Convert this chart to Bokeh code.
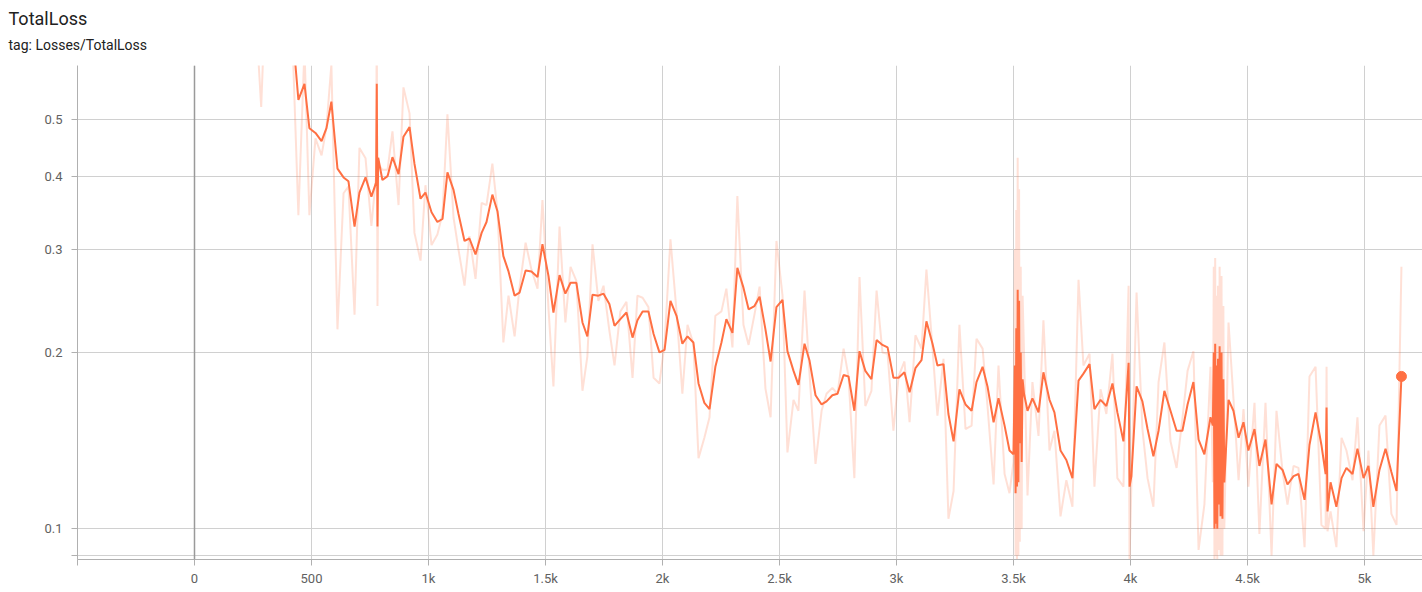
from bokeh.models import FixedTicker, PrintfTickFormatter, Span, Title
from bokeh.plotting import figure
from bokeh.embed import file_html
from bokeh.resources import INLINE

# training steps, raw loss and the smoothed (EMA) loss
steps = [
    25, 50, 75, 100, 120, 145, 170, 195, 220, 245, 265, 285, 305, 325, 350, 370, 395, 420,
    444, 470, 491, 517, 543, 564, 585, 611, 637, 658, 684, 705, 731, 756,
    776, 779, 782, 785,
    803, 825, 846, 872, 893, 919, 940, 966, 987, 1013, 1038, 1060, 1081, 1107, 1128,
    1154, 1175, 1201, 1227, 1248, 1273, 1295, 1320, 1342, 1368, 1389, 1415, 1440, 1466,
    1487, 1513, 1534, 1560, 1585, 1607, 1632, 1658, 1679, 1701, 1726, 1748, 1773, 1795,
    1820, 1846, 1872, 1893, 1915, 1940, 1962, 1987, 2009, 2034, 2060, 2085, 2107, 2132,
    2154, 2179, 2201, 2226, 2252, 2273, 2299, 2320, 2346, 2368, 2393, 2415, 2440, 2462,
    2487, 2513, 2534, 2560, 2581, 2607, 2628, 2654, 2680, 2701, 2726, 2748, 2774, 2795,
    2820, 2842, 2867, 2893, 2915, 2940, 2962, 2987, 3009, 3034, 3056, 3081, 3107, 3128,
    3154, 3175, 3201, 3222, 3244, 3269, 3295, 3321, 3342, 3368, 3389, 3415, 3436, 3462,
    3483, 3500,
    3506, 3509, 3512, 3515, 3518, 3521, 3524, 3527, 3531, 3535, 3539, 3545,
    3560, 3581, 3607, 3628, 3654, 3675, 3701, 3726, 3752, 3778, 3799, 3825, 3846, 3872,
    3897, 3923, 3944, 3970,
    3992, 3996,
    4004, 4026, 4051, 4073, 4098, 4120, 4145, 4171, 4197, 4222, 4244, 4269, 4291, 4316, 4342,
    4352, 4356, 4359, 4362, 4365, 4368, 4371, 4374, 4377, 4381, 4385, 4389, 4393, 4397, 4401,
    4419, 4440, 4462, 4483, 4504, 4530, 4551, 4577, 4603, 4624, 4650, 4671, 4697, 4718,
    4744, 4765, 4791, 4816,
    4834, 4838, 4842,
    4855, 4880, 4902, 4923, 4949, 4970, 4996, 5017, 5038, 5064, 5090, 5115, 5137, 5158,
]

raw_loss = [
    2.6, 2.2, 1.9, 1.6, 1.4, 1.2, 1.1, 1.0, 0.9, 0.8, 0.72, 0.525, 0.85, 0.95, 0.85, 0.9, 0.75, 0.66,
    0.343, 0.66, 0.343, 0.464, 0.434, 0.485, 0.62, 0.219, 0.374, 0.384, 0.232, 0.447, 0.429, 0.329,
    0.40, 0.75, 0.24, 0.42,
    0.41, 0.41, 0.477, 0.357, 0.567, 0.512, 0.32, 0.287, 0.386, 0.305, 0.318, 0.345, 0.51, 0.34, 0.30,
    0.26, 0.316, 0.267, 0.36, 0.357, 0.42, 0.348, 0.208, 0.25, 0.213, 0.258, 0.308, 0.277, 0.257,
    0.364, 0.237, 0.175, 0.328, 0.225, 0.28, 0.265, 0.172, 0.197, 0.306, 0.245, 0.26, 0.218, 0.19,
    0.235, 0.244, 0.181, 0.25, 0.248, 0.239, 0.181, 0.177, 0.207, 0.312, 0.235, 0.17, 0.223, 0.207,
    0.132, 0.143, 0.155, 0.231, 0.235, 0.257, 0.204, 0.37, 0.223, 0.206, 0.232, 0.259, 0.1735, 0.155,
    0.31, 0.25, 0.135, 0.166, 0.159, 0.255, 0.185, 0.129, 0.159, 0.17, 0.174, 0.17, 0.203, 0.182,
    0.122, 0.269, 0.162, 0.172, 0.255, 0.2, 0.199, 0.147, 0.182, 0.193, 0.152, 0.214, 0.203, 0.277,
    0.203, 0.156, 0.195, 0.104, 0.116, 0.223, 0.148, 0.15, 0.211, 0.203, 0.162, 0.119, 0.19, 0.124,
    0.115, 0.13,
    0.30, 0.09, 0.35, 0.085, 0.43, 0.09, 0.38, 0.095, 0.28, 0.10, 0.25, 0.20,
    0.114, 0.178, 0.144, 0.227, 0.136, 0.147, 0.105, 0.121, 0.109, 0.266, 0.19, 0.199, 0.118, 0.173,
    0.157, 0.199, 0.122, 0.118,
    0.26, 0.088,
    0.12, 0.253, 0.148, 0.122, 0.109, 0.178, 0.208, 0.141, 0.127, 0.154, 0.186, 0.201, 0.092, 0.11, 0.189,
    0.12, 0.28, 0.085, 0.29, 0.09, 0.25, 0.088, 0.26, 0.092, 0.28, 0.09, 0.27, 0.09, 0.24, 0.10,
    0.225, 0.167, 0.121, 0.16, 0.118, 0.164, 0.098, 0.164, 0.09, 0.159, 0.125, 0.11, 0.128, 0.127,
    0.093, 0.182, 0.189, 0.1015,
    0.10, 0.189, 0.099,
    0.107, 0.093, 0.143, 0.136, 0.121, 0.155, 0.099, 0.136, 0.09, 0.15, 0.156, 0.106, 0.1015, 0.28,
]

smoothed_loss = [
    2.6, 2.45, 2.2, 1.95, 1.72, 1.52, 1.36, 1.22, 1.09, 0.98, 0.88, 0.74, 0.78, 0.85, 0.85, 0.87, 0.82, 0.70,
    0.54, 0.575, 0.483, 0.474, 0.459, 0.483, 0.536, 0.412, 0.398, 0.392, 0.328, 0.375, 0.398, 0.369,
    0.39, 0.575, 0.328, 0.43,
    0.394, 0.40, 0.431, 0.403, 0.467, 0.485, 0.42, 0.366, 0.375, 0.347, 0.334, 0.338, 0.406, 0.379, 0.345,
    0.31, 0.313, 0.294, 0.32, 0.334, 0.372, 0.348, 0.292, 0.275, 0.25, 0.253, 0.276, 0.275, 0.269,
    0.306, 0.27, 0.234, 0.271, 0.252, 0.263, 0.263, 0.225, 0.213, 0.251, 0.25, 0.252, 0.242, 0.222,
    0.228, 0.234, 0.212, 0.227, 0.235, 0.235, 0.215, 0.200, 0.202, 0.245, 0.231, 0.207, 0.213, 0.208,
    0.177, 0.164, 0.160, 0.189, 0.208, 0.228, 0.216, 0.279, 0.258, 0.237, 0.240, 0.249, 0.219, 0.193,
    0.239, 0.246, 0.201, 0.186, 0.176, 0.207, 0.194, 0.169, 0.163, 0.165, 0.169, 0.170, 0.183, 0.182,
    0.159, 0.201, 0.186, 0.180, 0.210, 0.206, 0.204, 0.181, 0.181, 0.185, 0.171, 0.188, 0.194, 0.226,
    0.207, 0.190, 0.191, 0.157, 0.141, 0.173, 0.163, 0.159, 0.178, 0.189, 0.175, 0.152, 0.167, 0.150,
    0.136, 0.134,
    0.19, 0.115, 0.22, 0.118, 0.256, 0.12, 0.245, 0.14, 0.20, 0.13, 0.18, 0.17,
    0.159, 0.167, 0.158, 0.185, 0.166, 0.158, 0.136, 0.131, 0.122, 0.179, 0.184, 0.191, 0.160, 0.166,
    0.162, 0.177, 0.158, 0.141,
    0.192, 0.118,
    0.123, 0.175, 0.165, 0.148, 0.133, 0.147, 0.172, 0.159, 0.147, 0.147, 0.163, 0.178, 0.142, 0.134, 0.155,
    0.15, 0.20, 0.10, 0.207, 0.102, 0.19, 0.10, 0.195, 0.11, 0.205, 0.105, 0.20, 0.104, 0.18, 0.12,
    0.166, 0.159, 0.143, 0.152, 0.136, 0.148, 0.128, 0.142, 0.110, 0.129, 0.126, 0.119, 0.123, 0.124,
    0.112, 0.139, 0.158, 0.139,
    0.124, 0.161, 0.107,
    0.120, 0.109, 0.122, 0.127, 0.124, 0.137, 0.122, 0.128, 0.109, 0.126, 0.137, 0.125, 0.116, 0.182,
]

x_ticks = [-500, 0, 500, 1000, 1500, 2000, 2500, 3000, 3500, 4000, 4500, 5000]
x_tick_labels = ["", "0", "500", "1k", "1.5k", "2k", "2.5k", "3k", "3.5k", "4k", "4.5k", "5k"]
y_ticks = [0.09, 0.1, 0.2, 0.3, 0.4, 0.5]

LINE = "#ff7043"
FONT = "Roboto"

p = figure(width=1422, height=588, x_range=(-500, 5248), y_range=(0.0886, 0.618),
           y_axis_type="log", title=None, output_backend="svg", toolbar_location=None)
p.min_border_left = 77
p.min_border_right = 0
p.min_border_bottom = 0
p.min_border_top = 65
p.outline_line_color = None

# subtitle first, then main title above it, then a thin blank spacer on top
p.add_layout(Title(text="tag: Losses/TotalLoss", text_font=FONT, text_font_size="14px",
                   text_font_style="normal", text_color="#212121", align="left",
                   offset=-69, standoff=25), "above")
p.add_layout(Title(text="TotalLoss", text_font=FONT, text_font_size="18px",
                   text_font_style="normal", text_color="#212121", align="left",
                   offset=-69, standoff=-12), "above")
p.add_layout(Title(text=" ", text_font=FONT, text_font_size="3px", standoff=0), "above")

# axes
p.xaxis.ticker = FixedTicker(ticks=x_ticks)
p.xaxis.major_label_overrides = dict(zip(x_ticks, x_tick_labels))
p.yaxis.ticker = FixedTicker(ticks=y_ticks)
p.yaxis.formatter = PrintfTickFormatter(format="%.1f")
p.yaxis.major_label_overrides = {0.09: ""}
for ax in (p.xaxis, p.yaxis):
    ax.axis_line_color = "#b0b0b0"
    ax.major_tick_line_color = "#b0b0b0"
    ax.minor_tick_line_color = None
    ax.major_tick_in = 0
    ax.major_tick_out = 6
    ax.major_label_text_font = FONT
    ax.major_label_text_font_size = "13px"
    ax.major_label_text_color = "#616161"
p.yaxis.major_label_standoff = 9
p.xaxis.major_label_standoff = 5

p.grid.grid_line_color = "#d0d0d0"
p.ygrid.minor_grid_line_color = None

# darker line at step 0
p.add_layout(Span(location=0, dimension="height", line_color="#9a9a9a", line_width=1.5))

# raw values behind, smoothed curve on top
p.line(steps, raw_loss, line_color=LINE, line_alpha=0.22, line_width=2)
p.line(steps, smoothed_loss, line_color=LINE, line_width=2)
p.scatter(steps[-1:], smoothed_loss[-1:], size=10, fill_color=LINE, line_color=LINE)

open("out.html", "w").write(file_html(p, INLINE))
